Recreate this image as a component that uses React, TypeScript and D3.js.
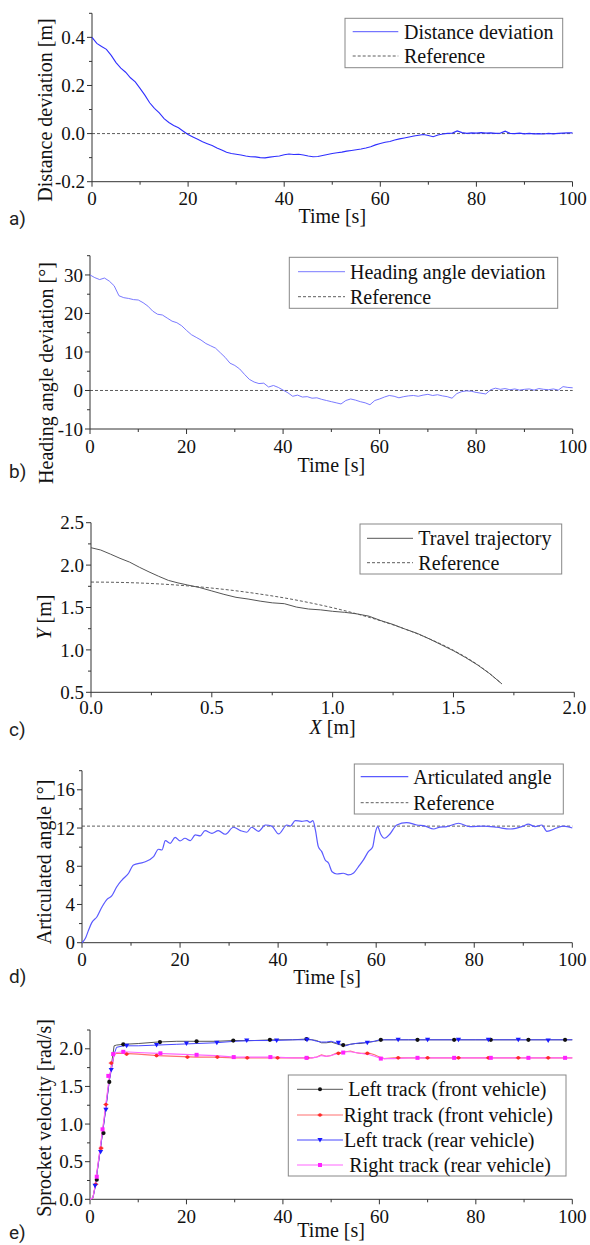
import React from "react";
import * as d3 from "d3";

// ---------- a) Distance deviation ----------
const distTime = d3.range(0, 101);
const distValues = [
  0.400, 0.375, 0.362, 0.350, 0.325, 0.295, 0.272, 0.255, 0.232, 0.215,
  0.188, 0.160, 0.128, 0.105, 0.086, 0.062, 0.046, 0.034, 0.024, 0.010,
  -0.004, -0.014, -0.024, -0.034, -0.042, -0.050, -0.060, -0.068, -0.078, -0.083,
  -0.086, -0.089, -0.093, -0.096, -0.097, -0.100, -0.101, -0.098, -0.095, -0.093,
  -0.088, -0.085, -0.087, -0.086, -0.089, -0.093, -0.096, -0.095, -0.091, -0.087,
  -0.083, -0.080, -0.077, -0.073, -0.070, -0.067, -0.064, -0.060, -0.055, -0.047,
  -0.041, -0.036, -0.033, -0.027, -0.022, -0.018, -0.014, -0.010, -0.007, -0.004,
  -0.008, -0.013, -0.006, -0.002, 0.001, 0.002, 0.011, 0.004, 0.001, 0.003,
  0.002, 0.004, 0.002, 0.003, 0.001, 0.002, 0.010, 0.001, 0.000, 0.002,
  -0.001, 0.001, -0.001, 0.000, -0.002, 0.001, -0.001, 0.001, 0.002, 0.003,
  0.003,
];

// ---------- b) Heading angle deviation ----------
const headTime = d3.range(0, 101);
const headValues = [
  30.0, 29.3, 28.8, 29.2, 28.4, 27.2, 24.6, 24.1, 23.9, 23.6,
  23.5, 22.8, 21.9, 20.6, 19.8, 19.6, 18.8, 18.0, 17.6, 16.8,
  15.6, 14.5, 13.8, 13.1, 12.2, 11.6, 11.0, 9.8, 8.6, 7.1,
  6.5, 5.6, 4.2, 2.9, 2.2, 1.8, 1.9, 0.9, 1.3, 0.8,
  0.1, -0.6, -1.5, -1.2, -1.7, -1.6, -2.0, -1.9, -2.3, -2.6,
  -2.9, -3.2, -3.5, -2.6, -2.2, -2.5, -2.9, -3.2, -3.7, -2.6,
  -2.2, -1.7, -1.3, -1.5, -1.9, -1.6, -1.4, -1.3, -1.5, -1.2,
  -1.0, -1.3, -1.1, -1.4, -1.6, -2.0, -0.8, -0.3, -0.1, -0.2,
  -0.5, -0.7, -0.9, 0.2, 0.6, 0.3, 0.5, 0.2, 0.4, 0.1,
  0.3, 0.4, 0.1, 0.5, 0.3, 0.2, 0.4, 0.1, 1.0, 0.8,
  0.7,
];

// ---------- c) Trajectory ----------
const trajX = [0, 0.04, 0.08, 0.12, 0.16, 0.2, 0.24, 0.28, 0.32, 0.36, 0.4, 0.45, 0.5, 0.55, 0.6, 0.65, 0.7, 0.75, 0.8, 0.85, 0.9, 0.95, 1.0, 1.05, 1.1, 1.15, 1.2, 1.25, 1.3, 1.35, 1.4, 1.45, 1.5, 1.55, 1.6, 1.65, 1.7];
const trajY = [2.205, 2.178, 2.13, 2.08, 2.035, 1.975, 1.92, 1.868, 1.82, 1.79, 1.765, 1.735, 1.695, 1.655, 1.62, 1.6, 1.575, 1.555, 1.545, 1.505, 1.482, 1.472, 1.455, 1.443, 1.425, 1.398, 1.345, 1.3, 1.245, 1.195, 1.13, 1.06, 0.99, 0.91, 0.822, 0.72, 0.6];
const refX = [0, 0.1, 0.2, 0.3, 0.4, 0.5, 0.6, 0.7, 0.8, 0.9, 1.0, 1.1, 1.2, 1.3, 1.4, 1.5, 1.6, 1.65, 1.7];
const refY = [1.8, 1.797, 1.789, 1.775, 1.755, 1.729, 1.697, 1.658, 1.613, 1.559, 1.497, 1.425, 1.342, 1.245, 1.131, 0.995, 0.825, 0.719, 0.6];

// ---------- d) Articulated angle ----------
const artTime = [0, 0.7, 1.35, 2, 3.06, 4.1, 5.1, 6.1, 7.1, 8.15, 9.5, 10.5, 12.6, 14.6, 15.6, 16.3, 17, 18, 19, 20, 21, 22.1, 23.1, 24.1, 25.1, 26.5, 27.8, 29.2, 30.9, 32.3, 33.6, 34.6, 36, 37.4, 38.7, 40.1, 41.8, 42.5, 43.5, 44.8, 45.9, 46.5, 47.1, 47.6, 48.2, 48.9, 49.6, 50.3, 51, 52, 53.3, 54.3, 55.4, 56.4, 57.4, 58.4, 59.3, 59.8, 60.3, 60.9, 61.7, 62.8, 64.2, 66.2, 68.3, 70, 71.7, 73, 74.4, 76.8, 79.1, 81.9, 84.6, 87.3, 90, 91, 92.4, 93.8, 94.8, 96.8, 98.2, 100];
const artValues = [0, 0.46, 1.33, 2.1, 2.72, 3.77, 4.54, 4.92, 5.86, 6.56, 7.27, 8.14, 8.42, 9.0, 9.78, 9.7, 10.68, 10.4, 11.03, 10.65, 10.93, 10.68, 11.28, 11.17, 11.73, 11.45, 11.73, 11.35, 12.08, 11.73, 11.56, 12.08, 11.66, 12.32, 12.2, 11.38, 12.32, 12.2, 12.78, 12.7, 12.78, 12.6, 12.78, 11.8, 10.05, 9.53, 8.66, 8.31, 7.43, 7.19, 7.27, 7.09, 7.3, 7.96, 8.66, 9.53, 10.05, 11.45, 12.15, 11.38, 10.93, 11.38, 12.32, 12.56, 12.32, 12.2, 11.9, 12.1, 12.15, 12.5, 12.15, 12.2, 12.08, 11.9, 12.2, 12.4, 12.15, 12.32, 11.66, 12.0, 12.2, 12.0];
const artReference = 12.2;

// ---------- e) Sprocket velocity ----------
const eTime = [0, 0.6, 1, 2, 3, 4, 5, 5.5, 7, 10, 14, 18, 22, 26, 30, 34, 38, 42, 45, 46, 47, 48, 49, 50, 51, 52, 53, 54, 55, 56, 57, 58, 59, 60, 61, 63, 66, 70, 75, 80, 85, 90, 95, 100];
const leftFront = [0, 0.02, 0.15, 0.6, 1.08, 1.58, 2.04, 2.05, 2.06, 2.07, 2.09, 2.10, 2.10, 2.10, 2.11, 2.11, 2.12, 2.12, 2.13, 2.12, 2.11, 2.08, 2.08, 2.09, 2.07, 2.05, 2.05, 2.06, 2.07, 2.07, 2.08, 2.09, 2.10, 2.11, 2.12, 2.12, 2.12, 2.12, 2.12, 2.12, 2.12, 2.12, 2.12, 2.12];
const rightFront = [0, 0.02, 0.15, 0.62, 1.1, 1.6, 1.92, 1.94, 1.94, 1.93, 1.91, 1.90, 1.89, 1.89, 1.88, 1.88, 1.88, 1.88, 1.88, 1.88, 1.89, 1.92, 1.90, 1.91, 1.94, 1.95, 1.96, 1.97, 1.95, 1.94, 1.94, 1.94, 1.92, 1.89, 1.87, 1.88, 1.88, 1.88, 1.88, 1.88, 1.88, 1.88, 1.88, 1.88];
const leftRear = [0, 0.02, 0.14, 0.6, 1.07, 1.57, 1.93, 2.02, 2.04, 2.04, 2.05, 2.06, 2.07, 2.08, 2.10, 2.11, 2.11, 2.12, 2.12, 2.12, 2.10, 2.09, 2.09, 2.10, 2.08, 2.06, 2.04, 2.06, 2.07, 2.08, 2.08, 2.09, 2.10, 2.12, 2.12, 2.12, 2.12, 2.12, 2.12, 2.12, 2.12, 2.12, 2.12, 2.12];
const rightRear = [0, 0.02, 0.16, 0.63, 1.12, 1.62, 1.93, 1.95, 1.96, 1.95, 1.94, 1.93, 1.92, 1.91, 1.89, 1.89, 1.89, 1.88, 1.88, 1.88, 1.89, 1.91, 1.90, 1.91, 1.93, 1.94, 1.96, 1.96, 1.95, 1.94, 1.93, 1.92, 1.90, 1.88, 1.87, 1.87, 1.88, 1.88, 1.88, 1.88, 1.88, 1.88, 1.88, 1.88];

const leftFrontMarkT = [1.4, 2.8, 4.0, 6.9, 14.5, 22.1, 29.7, 37.3, 44.9, 52.5, 60.3, 67.9, 75.5, 83.1, 90.9, 98.5];
const leftFrontMarkV = [0.26, 0.88, 1.56, 2.06, 2.09, 2.10, 2.11, 2.12, 2.13, 2.05, 2.12, 2.12, 2.12, 2.12, 2.12, 2.12];
const rightFrontMarkT = [1.2, 2.3, 3.3, 4.4, 7.6, 13.8, 20.2, 26.4, 32.6, 38.9, 45.0, 51.5, 57.5, 63.9, 70, 76.4, 82.6, 88.8, 95];
const rightFrontMarkV = [0.2, 0.68, 1.26, 1.81, 1.93, 1.91, 1.89, 1.89, 1.88, 1.88, 1.88, 1.94, 1.94, 1.88, 1.88, 1.88, 1.88, 1.88, 1.88];
const leftRearMarkT = [1.05, 2.2, 3.3, 4.4, 7.6, 13.8, 20, 26.3, 32.5, 38.7, 45.0, 51.5, 57.5, 63.9, 70, 76.4, 82.6, 88.8, 95];
const leftRearMarkV = [0.18, 0.63, 1.19, 1.72, 2.04, 2.05, 2.07, 2.08, 2.11, 2.11, 2.12, 2.08, 2.08, 2.12, 2.12, 2.12, 2.12, 2.12, 2.11];
const rightRearMarkT = [1.4, 2.6, 3.8, 4.8, 6.9, 14.6, 22.1, 29.8, 37.4, 44.9, 52.5, 60.3, 67.9, 75.5, 83.1, 90.9, 98.5];
const rightRearMarkV = [0.3, 0.93, 1.64, 1.93, 1.96, 1.94, 1.92, 1.89, 1.89, 1.88, 1.95, 1.87, 1.88, 1.88, 1.88, 1.88, 1.88];

// ---------- ticks ----------
const timeTicks = [0, 20, 40, 60, 80, 100];
const timeMinor = [10, 30, 50, 70, 90];

const SERIF = "'Liberation Serif', 'Times New Roman', serif";
const SANS = "Roboto, 'Liberation Sans', sans-serif";
const AX = "#333";
const f1 = (v: number) => v.toFixed(1);
const f0 = (v: number) => String(Math.round(v));

type Spec = {
  left: number; right: number; top: number; bottom: number;
  xDomain: [number, number]; yDomain: [number, number];
  xMajor: number[]; xMinor: number[]; yMajor: number[]; yMinor: number[];
  xFmt: (v: number) => string; yFmt: (v: number) => string;
  xTickDy?: number;
};

function Axes({ s, x, y, xLabel, xLabelY, yLabel, yLabelX, yLabelY, letter, letterY }: any) {
  const tdy = s.xTickDy ?? 23.5;
  return (
    <g>
      <line x1={s.left} x2={s.right} y1={s.bottom} y2={s.bottom} stroke={AX} strokeWidth={1} />
      <line x1={s.left} x2={s.left} y1={s.top} y2={s.bottom} stroke={AX} strokeWidth={1} />
      {s.xMajor.map((v: number) => (
        <g key={"xm" + v}>
          <line x1={x(v)} x2={x(v)} y1={s.bottom} y2={s.bottom + 5} stroke={AX} />
          <text x={x(v)} y={s.bottom + tdy} textAnchor="middle" fontSize={19} fontFamily={SERIF} fill="#111">{s.xFmt(v)}</text>
        </g>
      ))}
      {s.xMinor.map((v: number) => (
        <line key={"xn" + v} x1={x(v)} x2={x(v)} y1={s.bottom} y2={s.bottom + 3} stroke={AX} />
      ))}
      {s.yMajor.map((v: number) => (
        <g key={"ym" + v}>
          <line x1={s.left - 5} x2={s.left} y1={y(v)} y2={y(v)} stroke={AX} />
          <text x={s.left - 7} y={y(v)} dy="0.35em" textAnchor="end" fontSize={19} fontFamily={SERIF} fill="#111">{s.yFmt(v)}</text>
        </g>
      ))}
      {s.yMinor.map((v: number) => (
        <line key={"yn" + v} x1={s.left - 3} x2={s.left} y1={y(v)} y2={y(v)} stroke={AX} />
      ))}
      <text x={(s.left + s.right) / 2} y={xLabelY} textAnchor="middle" fontSize={20} fontFamily={SERIF} fill="#111">{xLabel}</text>
      <text transform={`translate(${yLabelX},${yLabelY}) rotate(-90)`} dy="0.35em" textAnchor="middle" fontSize={20} fontFamily={SERIF} fill="#111">{yLabel}</text>
      <text x={9} y={letterY} fontSize={19} fontFamily={SANS} fill="#222">{letter}</text>
    </g>
  );
}

function Legend({ x0, y0, w, h, rows }: any) {
  return (
    <g>
      <rect x={x0} y={y0} width={w} height={h} fill="white" stroke="#888" strokeWidth={1} />
      {rows.map((r: any, i: number) => (
        <g key={i}>
          <line x1={r.l1} x2={r.l2} y1={r.y} y2={r.y} stroke={r.color} strokeWidth={r.width || 1} strokeDasharray={r.dash || null} />
          {r.marker ? r.marker((r.l1 + r.l2) / 2, r.y) : null}
          <text x={r.tx} y={r.y} dy="0.35em" fontSize={20} fontFamily={SERIF} fill="#111">{r.text}</text>
        </g>
      ))}
    </g>
  );
}

const DASH = "3,2";

export default function App() {
  // a
  const sa: Spec = { left: 92, right: 572.5, top: 13.3, bottom: 181.7, xDomain: [0, 100], yDomain: [-0.2, 0.5], xMajor: timeTicks, xMinor: timeMinor, yMajor: [-0.2, 0, 0.2, 0.4], yMinor: [-0.1, 0.1, 0.3, 0.5], xFmt: f0, yFmt: f1 };
  const xa = d3.scaleLinear().domain(sa.xDomain).range([sa.left, sa.right]);
  const ya = d3.scaleLinear().domain(sa.yDomain).range([sa.bottom, sa.top]);
  const lineA = d3.line<number>().x((_, i) => xa(distTime[i])).y((d) => ya(d));

  // b
  const sb: Spec = { left: 90, right: 572.7, top: 255.7, bottom: 429, xDomain: [0, 100], yDomain: [-10, 35], xMajor: timeTicks, xMinor: timeMinor, yMajor: [-10, 0, 10, 20, 30], yMinor: [-5, 5, 15, 25, 35], xFmt: f0, yFmt: f0 };
  const xb = d3.scaleLinear().domain(sb.xDomain).range([sb.left, sb.right]);
  const yb = d3.scaleLinear().domain(sb.yDomain).range([sb.bottom, sb.top]);
  const lineB = d3.line<number>().x((_, i) => xb(headTime[i])).y((d) => yb(d));

  // c
  const sc: Spec = { left: 91, right: 574.3, top: 522.7, bottom: 692.3, xDomain: [0, 2], yDomain: [0.5, 2.5], xMajor: [0, 0.5, 1, 1.5, 2], xMinor: [0.25, 0.75, 1.25, 1.75], yMajor: [0.5, 1, 1.5, 2, 2.5], yMinor: [0.75, 1.25, 1.75, 2.25], xFmt: f1, yFmt: f1, xTickDy: 22 };
  const xc = d3.scaleLinear().domain(sc.xDomain).range([sc.left, sc.right]);
  const yc = d3.scaleLinear().domain(sc.yDomain).range([sc.bottom, sc.top]);
  const lineTraj = d3.line<number>().x((_, i) => xc(trajX[i])).y((d) => yc(d));
  const lineRef = d3.line<number>().x((_, i) => xc(refX[i])).y((d) => yc(d)).curve(d3.curveMonotoneX);

  // d
  const sd: Spec = { left: 82, right: 572.3, top: 770.7, bottom: 942.7, xDomain: [0, 100], yDomain: [0, 18], xMajor: timeTicks, xMinor: timeMinor, yMajor: [0, 4, 8, 12, 16], yMinor: [2, 6, 10, 14, 18], xFmt: f0, yFmt: f0 };
  const xd = d3.scaleLinear().domain(sd.xDomain).range([sd.left, sd.right]);
  const yd = d3.scaleLinear().domain(sd.yDomain).range([sd.bottom, sd.top]);
  const lineD = d3.line<number>().x((_, i) => xd(artTime[i])).y((d) => yd(d)).curve(d3.curveMonotoneX);

  // e
  const se: Spec = { left: 90, right: 572.3, top: 1030, bottom: 1199.3, xDomain: [0, 100], yDomain: [0, 2.25], xMajor: timeTicks, xMinor: timeMinor, yMajor: [0, 0.5, 1, 1.5, 2], yMinor: [0.25, 0.75, 1.25, 1.75, 2.25], xFmt: f0, yFmt: f1 };
  const xe = d3.scaleLinear().domain(se.xDomain).range([se.left, se.right]);
  const ye = d3.scaleLinear().domain(se.yDomain).range([se.bottom, se.top]);
  const lineE = (vals: number[]) => d3.line<number>().x((_, i) => xe(eTime[i])).y((d) => ye(d))(vals) || "";

  const dot = (c: string, r: number) => (cx: number, cy: number, k?: any) => <circle key={k} cx={cx} cy={cy} r={r} fill={c} />;
  const tri = (c: string) => (cx: number, cy: number, k?: any) => (
    <path key={k} d={`M${cx - 2.6},${cy - 2} L${cx + 2.6},${cy - 2} L${cx},${cy + 2.4} Z`} fill={c} />
  );
  const sq = (c: string) => (cx: number, cy: number, k?: any) => <rect key={k} x={cx - 2} y={cy - 2} width={4} height={4} fill={c} />;
  const redMark = (cx: number, cy: number, k?: any) => (
    <g key={k}><circle cx={cx} cy={cy} r={1.8} fill="#ff2a2a" /><line x1={cx - 2.5} x2={cx + 2.5} y1={cy} y2={cy} stroke="#ff2a2a" strokeWidth={0.8} /></g>
  );

  const cBlack = "#555";
  const cRed = "#ff7070";
  const cBlue = "#4646ff";
  const cMag = "#ff66ff";

  return (
    <svg width={590} height={1245} style={{ position: "absolute", left: 0, top: 0, background: "white" }}>
      <rect x={0} y={0} width={590} height={1245} fill="white" />

      {/* a */}
      <Axes s={sa} x={xa} y={ya} xLabel="Time [s]" xLabelY={223} yLabel="Distance deviation [m]" yLabelX={45} yLabelY={110} letter="a)" letterY={225} />
      <line x1={xa(0)} x2={xa(100)} y1={ya(0)} y2={ya(0)} stroke="#333" strokeWidth={0.8} strokeDasharray={DASH} />
      <path d={lineA(distValues) || ""} fill="none" stroke="#2f2fff" strokeWidth={1.1} />
      <Legend x0={345} y0={18.3} w={217.7} h={49.4} rows={[
        { l1: 352.7, l2: 398.3, y: 31.7, color: "#5555ff", tx: 404, text: "Distance deviation" },
        { l1: 352.7, l2: 398.3, y: 56, color: "#333", dash: DASH, width: 0.8, tx: 404, text: "Reference" },
      ]} />

      {/* b */}
      <Axes s={sb} x={xb} y={yb} xLabel="Time [s]" xLabelY={472} yLabel="Heading angle deviation [°]" yLabelX={45.5} yLabelY={373} letter="b)" letterY={478} />
      <line x1={xb(0)} x2={xb(100)} y1={yb(0)} y2={yb(0)} stroke="#333" strokeWidth={0.8} strokeDasharray={DASH} />
      <path d={lineB(headValues) || ""} fill="none" stroke="#6a6aff" strokeWidth={0.9} />
      <Legend x0={289.3} y0={257.3} w={268.4} h={51} rows={[
        { l1: 298, l2: 345, y: 271.7, color: "#7a7aff", tx: 350, text: "Heading angle deviation" },
        { l1: 298, l2: 345, y: 296.7, color: "#333", dash: DASH, width: 0.8, tx: 350, text: "Reference" },
      ]} />

      {/* c */}
      <Axes s={sc} x={xc} y={yc} xLabel={<><tspan fontStyle="italic">X</tspan> [m]</>} xLabelY={734} yLabel={<><tspan fontStyle="italic">Y</tspan> [m]</>} yLabelX={43.5} yLabelY={617} letter="c)" letterY={736} />
      <path d={lineRef(refY) || ""} fill="none" stroke="#333" strokeWidth={0.8} strokeDasharray={DASH} />
      <path d={lineTraj(trajY) || ""} fill="none" stroke="#555" strokeWidth={1} />
      <Legend x0={360} y0={524} w={201.7} h={50} rows={[
        { l1: 367, l2: 413, y: 538.3, color: "#555", tx: 418.3, text: "Travel trajectory" },
        { l1: 367, l2: 413, y: 562.7, color: "#333", dash: DASH, width: 0.8, tx: 418.3, text: "Reference" },
      ]} />

      {/* d */}
      <Axes s={sd} x={xd} y={yd} xLabel="Time [s]" xLabelY={984} yLabel="Articulated angle [°]" yLabelX={44} yLabelY={862} letter="d)" letterY={983} />
      <line x1={xd(0)} x2={xd(100)} y1={yd(artReference)} y2={yd(artReference)} stroke="#333" strokeWidth={0.8} strokeDasharray={DASH} />
      <path d={lineD(artValues) || ""} fill="none" stroke="#5a5aff" strokeWidth={1.2} />
      <Legend x0={354.3} y0={764} w={209} h={50} rows={[
        { l1: 360.7, l2: 408.3, y: 776.7, color: "#5a5aff", width: 1.2, tx: 413.3, text: "Articulated angle" },
        { l1: 360.7, l2: 408.3, y: 802.7, color: "#333", dash: DASH, width: 0.8, tx: 413.3, text: "Reference" },
      ]} />

      {/* e */}
      <Axes s={se} x={xe} y={ye} xLabel="Time [s]" xLabelY={1237} yLabel="Sprocket velocity [rad/s]" yLabelX={44} yLabelY={1118} letter="e)" letterY={1239} />
      <path d={lineE(leftFront)} fill="none" stroke={cBlack} strokeWidth={1} />
      <path d={lineE(rightFront)} fill="none" stroke={cRed} strokeWidth={1.1} />
      <path d={lineE(leftRear)} fill="none" stroke={cBlue} strokeWidth={1} />
      <path d={lineE(rightRear)} fill="none" stroke={cMag} strokeWidth={1.1} />
      {leftFrontMarkT.map((t, i) => dot("#111", 2.1)(xe(t), ye(leftFrontMarkV[i]), "lf" + i))}
      {rightFrontMarkT.map((t, i) => redMark(xe(t), ye(rightFrontMarkV[i]), "rf" + i))}
      {leftRearMarkT.map((t, i) => tri("#1a1aff")(xe(t), ye(leftRearMarkV[i]), "lr" + i))}
      {rightRearMarkT.map((t, i) => sq("#ff22ff")(xe(t), ye(rightRearMarkV[i]), "rr" + i))}
      <Legend x0={288.3} y0={1075} w={277.7} h={101} rows={[
        { l1: 297, l2: 343, y: 1089.3, color: cBlack, tx: 348.3, text: "Left track (front vehicle)", marker: dot("#111", 2) },
        { l1: 297, l2: 343, y: 1115, color: cRed, width: 1.2, tx: 343.5, text: "Right track (front vehicle)", marker: redMark },
        { l1: 297, l2: 343, y: 1140, color: cBlue, tx: 344, text: "Left track (rear vehicle)", marker: tri("#1a1aff") },
        { l1: 297, l2: 343, y: 1165, color: cMag, width: 1.2, tx: 349.3, text: "Right track (rear vehicle)", marker: sq("#ff22ff") },
      ]} />
    </svg>
  );
}
